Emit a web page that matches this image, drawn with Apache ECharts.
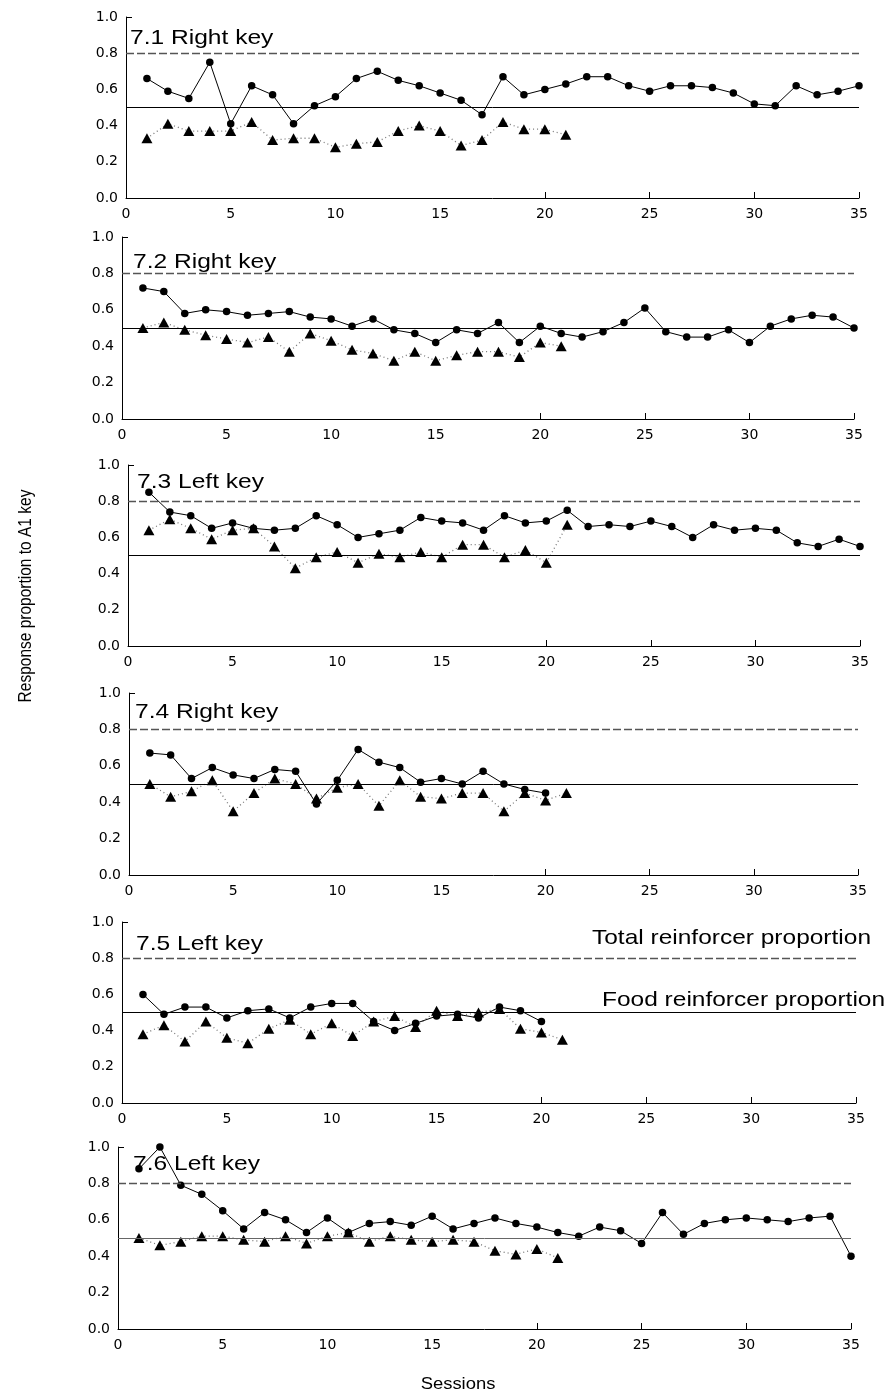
<!DOCTYPE html>
<html><head><meta charset="utf-8">
<script src="https://cdn.jsdelivr.net/npm/echarts@6/dist/echarts.min.js"></script>
<style>html,body{margin:0;padding:0;background:#fff}#c{width:887px;height:1396px}</style>
</head><body><div id="c"></div>
<script>
// ---------- DATA ----------
const sessions = [1,2,3,4,5,6,7,8,9,10,11,12,13,14,15,16,17,18,19,20,21,22,23,24,25,26,27,28,29,30,31,32,33,34,35];
const panelTitles = ['7.1 Right key','7.2 Right key','7.3 Left key','7.4 Right key','7.5 Left key','7.6 Left key'];
const totalReinforcerProportion = 0.8;
const foodReinforcerProportion = 0.5;
const lineLabels = ['Total reinforcer proportion','Food reinforcer proportion'];
const yAxisTitle = 'Response proportion to A1 key';
const xAxisTitle = 'Sessions';

// circles = response proportion, triangles = second measure
const p1Circles = [0.66,0.59,0.55,0.75,0.41,0.62,0.57,0.41,0.51,0.56,0.66,0.70,0.65,0.62,0.58,0.54,0.46,0.67,0.57,0.60,0.63,0.67,0.67,0.62,0.59,0.62,0.62,0.61,0.58,0.52,0.51,0.62,0.57,0.59,0.62];
const p1Triangles = [0.33,0.41,0.37,0.37,0.37,0.42,0.32,0.33,0.33,0.28,0.30,0.31,0.37,0.40,0.37,0.29,0.32,0.42,0.38,0.38,0.35];
const p2Circles = [0.72,0.70,0.58,0.60,0.59,0.57,0.58,0.59,0.56,0.55,0.51,0.55,0.49,0.47,0.42,0.49,0.47,0.53,0.42,0.51,0.47,0.45,0.48,0.53,0.61,0.48,0.45,0.45,0.49,0.42,0.51,0.55,0.57,0.56,0.50];
const p2Triangles = [0.50,0.53,0.49,0.46,0.44,0.42,0.45,0.37,0.47,0.43,0.38,0.36,0.32,0.37,0.32,0.35,0.37,0.37,0.34,0.42,0.40];
const p3Circles = [0.85,0.74,0.72,0.65,0.68,0.65,0.64,0.65,0.72,0.67,0.60,0.62,0.64,0.71,0.69,0.68,0.64,0.72,0.68,0.69,0.75,0.66,0.67,0.66,0.69,0.66,0.60,0.67,0.64,0.65,0.64,0.57,0.55,0.59,0.55];
const p3Triangles = [0.64,0.70,0.65,0.59,0.64,0.65,0.55,0.43,0.49,0.52,0.46,0.51,0.49,0.52,0.49,0.56,0.56,0.49,0.53,0.46,0.67];
const p4Circles = [0.67,0.66,0.53,0.59,0.55,0.53,0.58,0.57,0.39,0.52,0.69,0.62,0.59,0.51,0.53,0.50,0.57,0.50,0.47,0.45];
const p4Triangles = [0.50,0.43,0.46,0.52,0.35,0.45,0.53,0.50,0.42,0.48,0.50,0.38,0.52,0.43,0.42,0.45,0.45,0.35,0.45,0.41,0.45];
const p5Circles = [0.60,0.49,0.53,0.53,0.47,0.51,0.52,0.47,0.53,0.55,0.55,0.45,0.40,0.44,0.48,0.49,0.47,0.53,0.51,0.45];
const p5Triangles = [0.38,0.43,0.34,0.45,0.36,0.33,0.41,0.46,0.38,0.44,0.37,0.45,0.48,0.42,0.51,0.48,0.50,0.52,0.41,0.39,0.35];
const p6Circles = [0.88,1.00,0.79,0.74,0.65,0.55,0.64,0.60,0.53,0.61,0.53,0.58,0.59,0.57,0.62,0.55,0.58,0.61,0.58,0.56,0.53,0.51,0.56,0.54,0.47,0.64,0.52,0.58,0.60,0.61,0.60,0.59,0.61,0.62,0.40];
const p6Triangles = [0.50,0.46,0.48,0.51,0.51,0.49,0.48,0.51,0.47,0.51,0.53,0.48,0.51,0.49,0.48,0.49,0.48,0.43,0.41,0.44,0.39];

const circleSets = [p1Circles,p2Circles,p3Circles,p4Circles,p5Circles,p6Circles];
const triangleSets = [p1Triangles,p2Triangles,p3Triangles,p4Triangles,p5Triangles,p6Triangles];

// ---------- LAYOUT ----------
const layout = [
  {left:126, top:17,   width:733, height:181, tx:130, ty:27.5},
  {left:122, top:237,  width:732, height:182, tx:133, ty:251.5},
  {left:128, top:465,  width:732, height:181, tx:137, ty:472},
  {left:129, top:693,  width:729, height:182, tx:135, ty:702},
  {left:122, top:922,  width:734, height:181, tx:136, ty:933.5},
  {left:118, top:1147, width:733, height:182, tx:133, ty:1153.5}
];
const FONT = '"Liberation Sans", Arial, sans-serif';
const TICKFONT = '"DejaVu Sans", sans-serif';
const pairs = arr => arr.map((v, i) => [sessions[i], v]);

const grids = [], xAxes = [], yAxes = [], series = [], graphics = [];
layout.forEach((g, i) => {
  grids.push({left:g.left, top:g.top, width:g.width, height:g.height});
  xAxes.push({
    type:'value', gridIndex:i, min:0, max:35, interval:5,
    axisLine:{show:true, onZero:false, lineStyle:{color:'#000', width:1}},
    axisTick:{show:true, inside:true, length:6, customValues:[20,25,30,35], lineStyle:{color:'#000'}},
    axisLabel:{color:'#000', fontSize:14, fontFamily:TICKFONT, margin:9},
    splitLine:{show:false}
  });
  yAxes.push({
    type:'value', gridIndex:i, min:0, max:1, interval:0.2,
    axisLine:{show:true, onZero:false, lineStyle:{color:'#000', width:1}},
    axisTick:{show:true, inside:true, length:6, customValues:[1], lineStyle:{color:'#000'}},
    axisLabel:{color:'#000', fontSize:14, fontFamily:TICKFONT, margin:8, formatter:v => v.toFixed(1)},
    splitLine:{show:false}
  });
  series.push({
    type:'line', xAxisIndex:i, yAxisIndex:i, data:pairs(triangleSets[i]),
    symbol:'triangle', symbolSize:[11,10], clip:false, z:3,
    itemStyle:{color:'#000'},
    lineStyle:{color:'#777', width:1.3, type:[1,3]},
    animation:false,
    markLine:{
      silent:true, symbol:'none', label:{show:false}, animation:false,
      data:[
        {yAxis:totalReinforcerProportion, lineStyle:{color:'#555', width:1.3, type:[8,3]}},
        {yAxis:foodReinforcerProportion, lineStyle:{color:i===5 ? '#666' : '#000', width:1, type:'solid'}}
      ]
    }
  });
  series.push({
    type:'line', xAxisIndex:i, yAxisIndex:i, data:pairs(circleSets[i]),
    symbol:'circle', symbolSize:7.5, clip:false, z:4,
    itemStyle:{color:'#000'},
    lineStyle:{color:'#000', width:1},
    animation:false
  });
  graphics.push({
    type:'text', x:g.tx, y:g.ty, scaleX:1.17, z:10,
    style:{text:panelTitles[i], fontSize:21, fontFamily:FONT, fill:'#000', verticalAlign:'top'}
  });
});
graphics.push({type:'text', x:592, y:928, scaleX:1.166, style:{text:lineLabels[0], fontSize:21, fontFamily:FONT, fill:'#000', verticalAlign:'top'}});
graphics.push({type:'text', x:602, y:990, scaleX:1.166, style:{text:lineLabels[1], fontSize:21, fontFamily:FONT, fill:'#000', verticalAlign:'top'}});
graphics.push({type:'text', x:26, y:596, rotation:Math.PI/2, scaleY:1.15,
  style:{text:yAxisTitle, fontSize:15.5, fontFamily:FONT, fill:'#000', align:'center', verticalAlign:'middle'}});
graphics.push({type:'text', x:458, y:1385, scaleX:1.15,
  style:{text:xAxisTitle, fontSize:16, fontFamily:FONT, fill:'#000', align:'center', verticalAlign:'middle'}});

const chart = echarts.init(document.getElementById('c'), null, {renderer:'canvas'});
chart.setOption({
  animation:false,
  backgroundColor:'#fff',
  grid:grids, xAxis:xAxes, yAxis:yAxes, series:series, graphic:graphics
});
</script></body></html>
